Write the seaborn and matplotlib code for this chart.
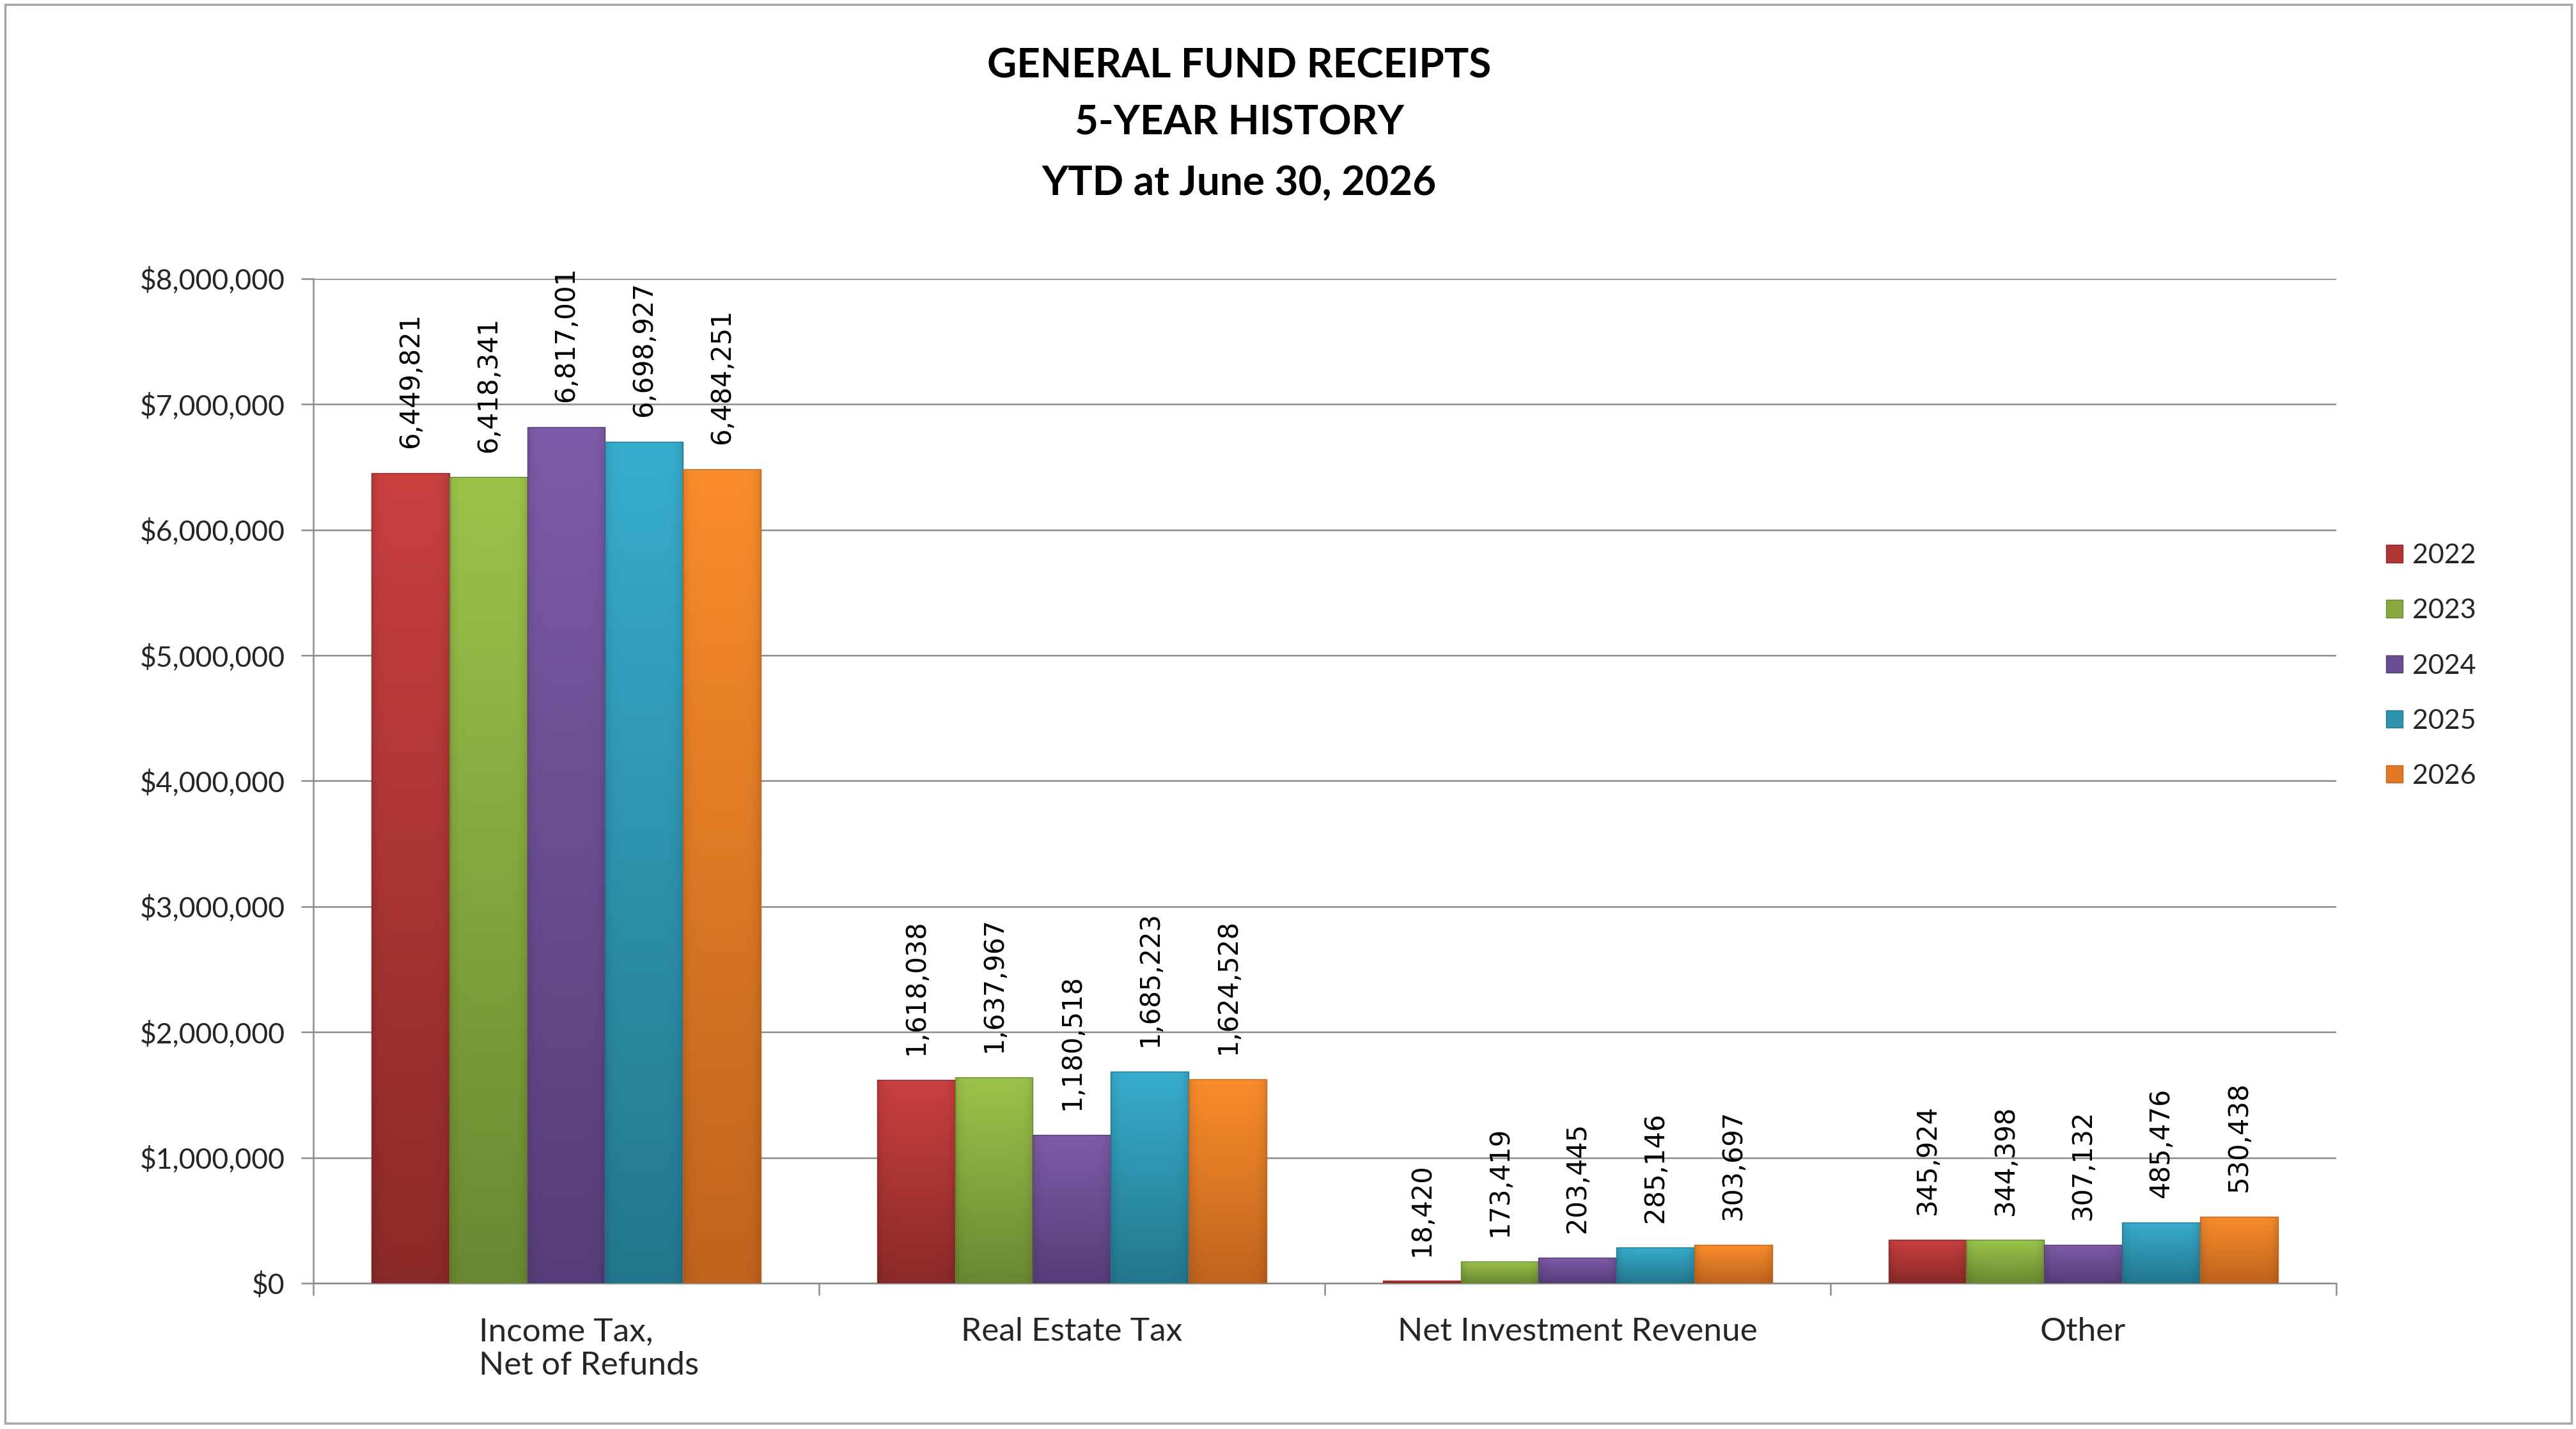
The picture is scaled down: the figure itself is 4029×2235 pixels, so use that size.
import numpy as np
import pandas as pd
import matplotlib
matplotlib.use("Agg")
import matplotlib.pyplot as plt
import matplotlib.colors as mcolors
import matplotlib.transforms as mtransforms
from matplotlib.patches import Patch, Rectangle
from matplotlib.ticker import FuncFormatter, FixedLocator
import seaborn as sns

# ---------------- data ----------------
categories = ["Income Tax,\nNet of Refunds", "Real Estate Tax", "Net Investment Revenue", "Other"]
years = ["2022", "2023", "2024", "2025", "2026"]
v2022 = [6449821, 1618038, 18420, 345924]
v2023 = [6418341, 1637967, 173419, 344398]
v2024 = [6817001, 1180518, 203445, 307132]
v2025 = [6698927, 1685223, 285146, 485476]
v2026 = [6484251, 1624528, 303697, 530438]
title_lines = ["GENERAL FUND RECEIPTS", "5-YEAR HISTORY", "YTD at June 30, 2026"]

series = [v2022, v2023, v2024, v2025, v2026]
df = pd.DataFrame({
    "category": [c for s in series for c in categories],
    "year": [y for y, s in zip(years, series) for _ in s],
    "value": [v for s in series for v in s],
})

# colours (top light / bottom dark)
top_cols = ["#C9403F", "#9CC44B", "#7E5BA8", "#38ADCD", "#FA8D2C"]
bot_cols = ["#8A2929", "#6A8831", "#563D79", "#23778D", "#BF631D"]
mid_cols = ["#B23535", "#87A93F", "#6A4C91", "#2F93AF", "#E07826"]

sns.set_theme(style="white")
plt.rcParams["font.family"] = ["Lato", "DejaVu Sans"]

fig = plt.figure(figsize=(40.30, 22.35), dpi=100)
ax = fig.add_axes([0.1216, 0.1020, 0.7850, 0.7030])

sns.barplot(data=df, x="category", y="value", hue="year", order=categories,
            hue_order=years, palette=mid_cols, width=0.77, saturation=1,
            errorbar=None, legend=False, ax=ax, zorder=3)

# gradient fill for each bar
for ci, cont in enumerate(ax.containers):
    t = np.linspace(0, 1, 200)[:, None]
    top = np.array(mcolors.to_rgb(top_cols[ci]))
    bot = np.array(mcolors.to_rgb(bot_cols[ci]))
    xs = np.linspace(-1, 1, 40)[None, :]
    edge = 1 - 0.10 * (np.abs(xs) ** 8)
    img = (top[None, None, :] * (1 - t[..., None]) + bot[None, None, :] * t[..., None]) * edge[..., None]
    img = np.clip(img, 0, 1)
    for p in cont:
        x0, y0, w, h = p.get_x(), p.get_y(), p.get_width(), p.get_height()
        if h <= 0:
            continue
        p.set_facecolor("none")
        p.set_edgecolor(bot_cols[ci])
        p.set_linewidth(1.0)
        im = ax.imshow(img, extent=[x0, x0 + w, y0, y0 + h], origin="upper",
                       aspect="auto", zorder=2.9, interpolation="bilinear")
        im.set_clip_path(p)
    ax.bar_label(cont, labels=[f"{v:,.0f}" for v in cont.datavalues],
                 padding=28, rotation=90, fontsize=30,
                 family=["DejaVu Sans"], color="black")

ax.set_xlim(-0.5, 3.5)
ax.set_ylim(0, 8000000)
ax.set_yticks(np.arange(0, 8000001, 1000000))
ax.yaxis.set_major_formatter(FuncFormatter(lambda v, p: f"${v:,.0f}"))
ax.grid(axis="y", color="#8C8C8C", linewidth=1.8, zorder=0)
ax.set_axisbelow(True)
ax.set_xlabel("")
ax.set_ylabel("")

for side in ["top", "right"]:
    ax.spines[side].set_visible(False)
for side in ["left", "bottom"]:
    ax.spines[side].set_color("#8C8C8C")
    ax.spines[side].set_linewidth(1.8)

ax.tick_params(axis="y", which="major", direction="out", length=14, width=1.8,
               color="#8C8C8C", pad=18, labelsize=32, left=True)
ax.tick_params(axis="x", which="major", length=0, pad=38, labelsize=37)
ax.xaxis.set_minor_locator(FixedLocator([-0.5, 0.5, 1.5, 2.5, 3.5]))
ax.tick_params(axis="x", which="minor", direction="out", length=14, width=1.8,
               color="#8C8C8C", bottom=True)
for i, lab in enumerate(ax.get_xticklabels()):
    lab.set_multialignment("left")
    lab.set_linespacing(1.2)
    if "\n" in lab.get_text():
        lab.set_transform(lab.get_transform() +
                          mtransforms.ScaledTranslation(0.36, 0, fig.dpi_scale_trans))

# title
for txt, yy in zip(title_lines, [0.954, 0.914, 0.872]):
    fig.text(0.481, yy, txt, ha="center", va="center", fontsize=46,
             fontweight="bold", color="black")

# legend
handles = [Patch(facecolor=c, edgecolor=b, linewidth=1) for c, b in zip(mid_cols, bot_cols)]
fig.legend(handles, years, loc="center left", bbox_to_anchor=(0.926, 0.534),
           frameon=False, fontsize=31, handlelength=0.6, handleheight=0.6,
           handletextpad=0.35, labelspacing=1.12, borderpad=0, borderaxespad=0)

# outer border
fig.add_artist(Rectangle((0.002, 0.004), 0.996, 0.993, transform=fig.transFigure,
                         fill=False, edgecolor="#A6A6A6", linewidth=2.5))

fig.savefig("out.png", dpi=100, facecolor="white")
